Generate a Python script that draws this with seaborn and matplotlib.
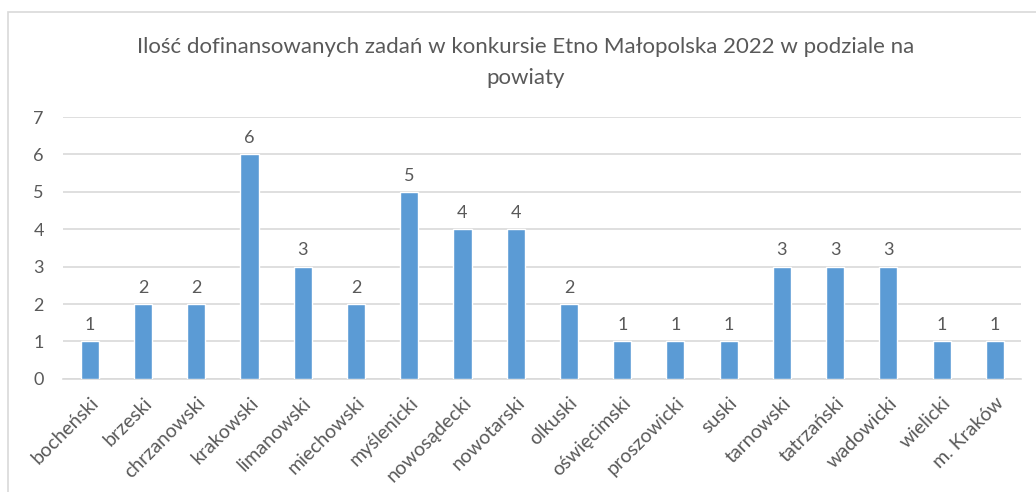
import seaborn as sns
import matplotlib.pyplot as plt
import pandas as pd
from matplotlib.patches import Rectangle

powiaty = ["bocheński", "brzeski", "chrzanowski", "krakowski", "limanowski",
           "miechowski", "myślenicki", "nowosądecki", "nowotarski", "olkuski",
           "oświęcimski", "proszowicki", "suski", "tarnowski", "tatrzański",
           "wadowicki", "wielicki", "m. Kraków"]
zadania = [1, 2, 2, 6, 3, 2, 5, 4, 4, 2, 1, 1, 1, 3, 3, 3, 1, 1]

df = pd.DataFrame({"powiat": powiaty, "zadania": zadania})

sns.set_style("white")
plt.rcParams['font.family'] = ['Lato', 'DejaVu Sans']
grey = "#595959"

fig = plt.figure(figsize=(10.36, 4.92), dpi=100)
ax = fig.add_axes([0.061, 0.23, 0.925, 0.532])

sns.barplot(data=df, x="powiat", y="zadania", color="#5B9BD5", width=0.34,
            saturation=1, ax=ax, zorder=3)

ax.set_ylim(0, 7)
ax.set_yticks(range(0, 8))
ax.set_xlim(-0.5, len(powiaty) - 0.5)
ax.yaxis.grid(True, color="#D9D9D9", linewidth=1.2, zorder=0)
ax.set_xlabel("")
ax.set_ylabel("")
sns.despine(ax=ax, left=True, top=True, right=True)
ax.spines["bottom"].set_color("#D9D9D9")
ax.spines["bottom"].set_linewidth(1.2)
ax.tick_params(axis="both", length=0, colors=grey, labelsize=13)
ax.tick_params(axis="x", labelsize=14, pad=11)
ax.tick_params(axis="y", pad=14)
plt.setp(ax.get_xticklabels(), rotation=45, ha="right", rotation_mode="anchor")

for c in ax.containers:
    ax.bar_label(c, padding=6, color=grey, fontsize=13)

fig.text(0.507, 0.905, "Ilość dofinansowanych zadań w konkursie Etno Małopolska 2022 w podziale na",
         ha="center", va="center", color=grey, fontsize=16)
fig.text(0.507, 0.842, "powiaty", ha="center", va="center", color=grey, fontsize=16)

fig.patches.append(Rectangle((8 / 1036, -0.1), 1.2, 1 - 12 / 492 + 0.1,
                             transform=fig.transFigure, fill=False,
                             edgecolor="#D9D9D9", linewidth=1.2))

fig.savefig("out.png", dpi=100)
